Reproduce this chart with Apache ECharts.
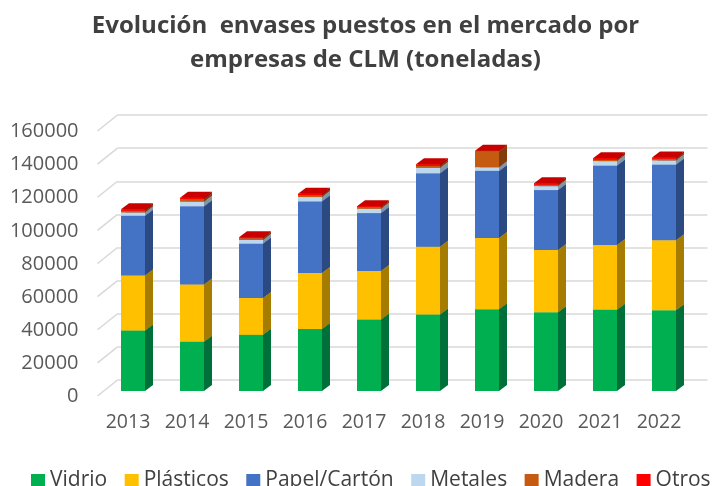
<!DOCTYPE html>
<html>
<head>
<meta charset="utf-8">
<script src="https://cdn.jsdelivr.net/npm/echarts@6/dist/echarts.min.js"></script>
<style>
html, body { margin: 0; padding: 0; background: #fff; }
#chart { width: 712px; height: 486px; }
</style>
</head>
<body>
<div id="chart"></div>
<script>
var years = ['2013', '2014', '2015', '2016', '2017', '2018', '2019', '2020', '2021', '2022'];
var vidrio = [36500, 29700, 33900, 37500, 43200, 46200, 49400, 47600, 49000, 48800];
var plasticos = [33200, 34600, 22300, 33800, 29300, 40900, 43000, 37500, 39100, 42200];
var papel = [36100, 47300, 32800, 43200, 34900, 44400, 40500, 36200, 48000, 45700];
var metales = [2000, 2700, 2200, 2600, 2600, 3200, 2200, 2400, 2700, 2500];
var madera = [1000, 1400, 1000, 1000, 1000, 1200, 9500, 800, 800, 1000];
var otros = [900, 1000, 600, 1000, 600, 1000, 400, 1000, 1000, 800];
var yTicks = [0, 20000, 40000, 60000, 80000, 100000, 120000, 140000, 160000];

var names = ['Vidrio', 'Plásticos', 'Papel/Cartón', 'Metales', 'Madera', 'Otros'];
var values = [vidrio, plasticos, papel, metales, madera, otros];
var frontColors = ['#00b050', '#ffc000', '#4472c4', '#bdd7ee', '#c55a11', '#ff0000'];
var sideColors = ['#00703a', '#a67c00', '#2c4a82', '#8296a8', '#843c0c', '#a00000'];
var topColors = ['#00843f', '#c79500', '#365a9c', '#98aabb', '#9c480e', '#c80000'];

// offsets of the bar plane and the floor edge from the back wall
var barDx = -14, barDy = 11;
var depthX = 8, depthY = -6;
var halfWidth = 12;

function buildStack(idx) {
    var rows = [];
    for (var i = 0; i < years.length; i++) {
        var base = 0;
        for (var j = 0; j < idx; j++) {
            base += values[j][i];
        }
        rows.push([i, base, base + values[idx][i]]);
    }
    return rows;
}

function poly(points, color) {
    return { type: 'polygon', shape: { points: points }, style: { fill: color } };
}

function barRender(idx) {
    return function (params, api) {
        var low = api.coord([api.value(0), api.value(1)]);
        var high = api.coord([api.value(0), api.value(2)]);
        var x0 = low[0] + barDx - halfWidth;
        var x1 = low[0] + barDx + halfWidth;
        var y0 = low[1] + barDy;
        var y1 = high[1] + barDy;
        return {
            type: 'group',
            children: [
                poly([[x1, y0], [x1 + depthX, y0 + depthY], [x1 + depthX, y1 + depthY], [x1, y1]], sideColors[idx]),
                poly([[x0, y1], [x1, y1], [x1 + depthX, y1 + depthY], [x0 + depthX, y1 + depthY]], topColors[idx]),
                poly([[x0, y0], [x1, y0], [x1, y1], [x0, y1]], frontColors[idx])
            ]
        };
    };
}

var series = [{
    type: 'custom',
    silent: true,
    z: 1,
    coordinateSystem: 'cartesian2d',
    data: yTicks.map(function (v) { return [0, v]; }),
    encode: { x: 0, y: 1 },
    renderItem: function (params, api) {
        var size = api.size([1, 0]);
        var p = api.coord([0, api.value(1)]);
        var x = p[0] - size[0] / 2;
        return {
            type: 'line',
            shape: { x1: x, y1: p[1], x2: x - 20, y2: p[1] + 16 },
            style: { stroke: '#d9d9d9', lineWidth: 1.6 }
        };
    }
}];

names.forEach(function (name, idx) {
    series.push({
        name: name,
        type: 'custom',
        z: 2 + idx,
        coordinateSystem: 'cartesian2d',
        itemStyle: { color: frontColors[idx] },
        data: buildStack(idx),
        encode: { x: 0, y: [1, 2] },
        renderItem: barRender(idx)
    });
});

var myChart = echarts.init(document.getElementById('chart'));
myChart.setOption({
    animation: false,
    backgroundColor: '#fff',
    textStyle: { fontFamily: '"Open Sans"' },
    title: {
        text: 'Evolución  envases puestos en el mercado por\nempresas de CLM (toneladas)',
        left: 360.5,
        top: 4,
        textAlign: 'center',
        textStyle: { fontFamily: '"Open Sans"', fontSize: 24, fontWeight: 'bold', color: '#404040', lineHeight: 34 }
    },
    legend: {
        data: names,
        left: 26,
        top: 465,
        width: 700,
        icon: 'rect',
        itemWidth: 14,
        itemHeight: 13,
        itemGap: 17.5,
        textStyle: { fontFamily: '"Open Sans"', fontSize: 21, color: '#404040' }
    },
    grid: { left: 117.5, right: 4.5, top: 115, bottom: 106 },
    xAxis: {
        type: 'category',
        data: years,
        axisLine: { show: false },
        axisTick: { show: false },
        axisLabel: { color: '#595959', fontSize: 19.5, margin: 32, padding: [0, 38, 0, 0], interval: 0 }
    },
    yAxis: {
        type: 'value',
        min: 0,
        max: 160000,
        interval: 20000,
        axisLine: { show: false },
        axisTick: { show: false },
        axisLabel: {
            color: '#595959',
            fontSize: 20,
            margin: 39,
            verticalAlign: 'top',
            lineHeight: 33,
            formatter: function (v) { return String(v); }
        },
        splitLine: { lineStyle: { color: '#d9d9d9', width: 1.6 } }
    },
    series: series
});
window.onresize = myChart.resize;
</script>
</body>
</html>
